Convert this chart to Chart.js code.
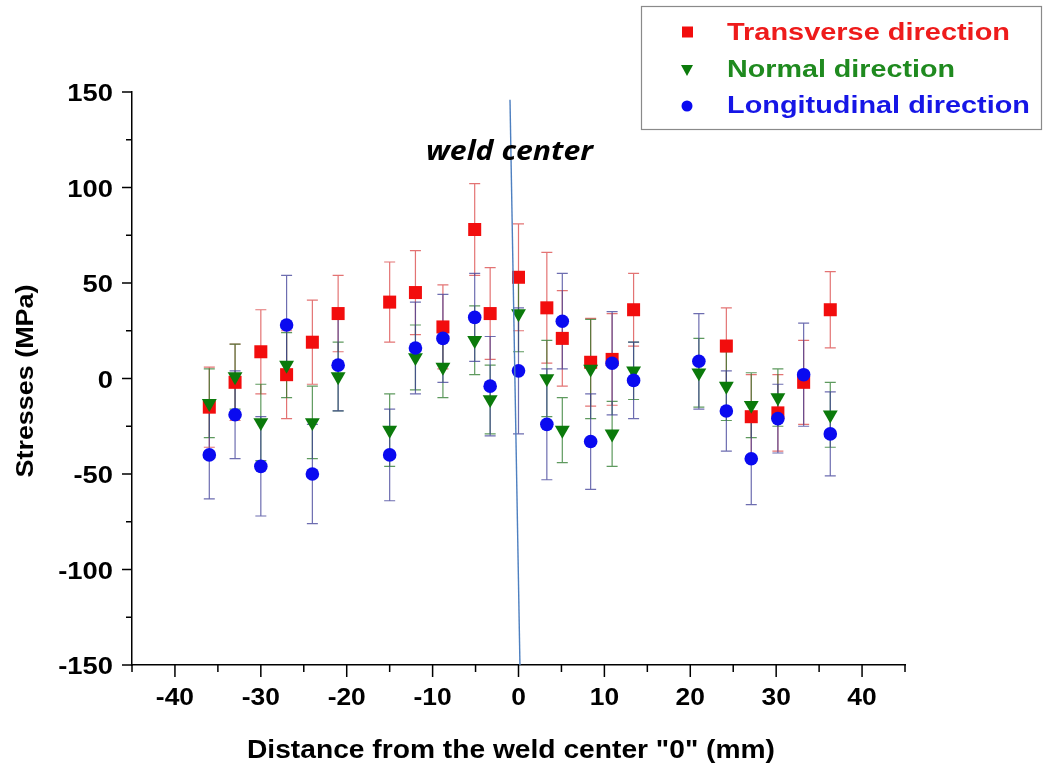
<!DOCTYPE html>
<html>
<head>
<meta charset="utf-8">
<script src="https://cdn.jsdelivr.net/npm/chart.js@4.4.1/dist/chart.umd.min.js"></script>
<style>
  html, body { margin: 0; padding: 0; background: #fff; }
  #wrap { position: relative; width: 1046px; height: 771px; }
</style>
</head>
<body>
<div id="wrap"><canvas id="chart"></canvas></div>
<script>
// distance from weld center (mm), shared by the three series
const xMm = [-36, -33, -30, -27, -24, -21, -15, -12, -8.8, -5.1, -3.3, 0, 3.3, 5.1, 8.4, 10.9, 13.4, 21, 24.2, 27.1, 30.2, 33.2, 36.3];

// stresses (MPa) + error (±MPa); null = no point at that position
const transverse    = [-15, -2, 14, 2, 19, 34, 40, 45, 27, 78, 34, 53, 37, 21, 8.5, 10, 36, null, 17, -20, -18, -2, 36];
const transverseErr = [21, 20, 22, 23, 22, 20, 21, 22, 22, 24, 24, 28, 29, 25, 23, 24, 19, null, 20, 22, 20, 22, 20];

const normal    = [-13, 1, -23, 7, -23, 1, -27, 11, 6, 20, -11, 34, 0, -27, 5, -29, 4, 3, -4, -14, -10, null, -19];
const normalErr = [18, 17, 20, 17, 19, 18, 19, 17, 16, 18, 18, 20, 20, 17, 26, 17, 15, 18, 18, 17, 15, null, 17];

const longitudinal    = [-40, -19, -46, 28, -50, 7, -40, 16, 21, 32, -4, 4, -24, 30, -33, 8, -1, 9, -17, -42, -21, 2, -29];
const longitudinalErr = [23, 23, 26, 26, 26, 24, 24, 24, 23, 23, 26, 33, 29, 25, 25, 27, 20, 25, 21, 24, 18, 27, 22];

// slanted "weld center" marker line (x mm, y MPa)
const weldLineX = [-0.99, 0.17];
const weldLineY = [146, -150];

const xTicks = [-40, -30, -20, -10, 0, 10, 20, 30, 40];
const yTicks = [150, 100, 50, 0, -50, -100, -150];

const LABELS = ["Transverse direction", "Normal direction", "Longitudinal direction"];

const RED = "#f20d0d", GREEN = "#0b7a0b", BLUE = "#0a0af0";

function pts(ys) {
  return xMm.map((x, i) => ({ x, y: ys[i] })).filter(p => p.y != null);
}

function stretchText(ctx, text, x, y, o) {
  ctx.save();
  ctx.font = o.font;
  ctx.fillStyle = o.color || "#000";
  ctx.textBaseline = o.baseline || "alphabetic";
  ctx.textAlign = "left";
  const w = ctx.measureText(text).width;
  const sx = o.width ? o.width / w : (o.sx || 1);
  const full = w * sx;
  ctx.translate(x, y);
  if (o.rotate) ctx.rotate(o.rotate);
  let x0 = 0;
  if (o.align === "center") x0 = -full / 2;
  else if (o.align === "right") x0 = -full;
  ctx.translate(x0, 0);
  ctx.scale(sx, 1);
  ctx.fillText(text, 0, 0);
  ctx.restore();
}

const errBars = {
  id: "errBars",
  beforeDatasetsDraw(chart) {
    const { ctx, scales: { x, y } } = chart;
    const sets = [
      [transverse, transverseErr, "rgba(220,80,80,0.8)"],
      [normal, normalErr, "rgba(40,120,40,0.75)"],
      [longitudinal, longitudinalErr, "rgba(60,60,150,0.75)"]
    ];
    ctx.save();
    ctx.lineWidth = 1.2;
    sets.forEach(([vals, errs, col]) => {
      ctx.strokeStyle = col;
      vals.forEach((v, i) => {
        if (v == null || errs[i] == null) return;
        const px = x.getPixelForValue(xMm[i]);
        const top = y.getPixelForValue(v + errs[i]);
        const bot = y.getPixelForValue(v - errs[i]);
        ctx.beginPath();
        ctx.moveTo(px, top); ctx.lineTo(px, bot);
        ctx.moveTo(px - 5.5, top); ctx.lineTo(px + 5.5, top);
        ctx.moveTo(px - 5.5, bot); ctx.lineTo(px + 5.5, bot);
        ctx.stroke();
      });
    });
    ctx.restore();
  }
};

const decor = {
  id: "decor",
  afterDraw(chart) {
    const { ctx, scales: { x, y }, chartArea: ca } = chart;
    const tickFont = "bold 24px 'Liberation Sans', Arial, sans-serif";

    // tick marks
    ctx.save();
    ctx.strokeStyle = "#000";
    ctx.lineWidth = 1.5;
    ctx.beginPath();
    x.ticks.forEach(t => {
      const px = x.getPixelForValue(t.value);
      const len = t.value % 10 === 0 ? 12 : 7;
      ctx.moveTo(px, ca.bottom); ctx.lineTo(px, ca.bottom + len);
    });
    y.ticks.forEach(t => {
      const py = y.getPixelForValue(t.value);
      const len = t.value % 50 === 0 ? 10 : 6;
      ctx.moveTo(ca.left, py); ctx.lineTo(ca.left - len, py);
    });
    ctx.stroke();
    ctx.restore();

    // tick labels
    xTicks.forEach(v => {
      stretchText(ctx, String(v), x.getPixelForValue(v), ca.bottom + 40,
        { font: tickFont, sx: 1.1, align: "center" });
    });
    yTicks.forEach(v => {
      stretchText(ctx, String(v), ca.left - 19, y.getPixelForValue(v) + 9,
        { font: tickFont, sx: 1.14, align: "right" });
    });

    // axis titles
    stretchText(ctx, 'Distance from the weld center "0" (mm)', 511, 758,
      { font: "bold 25px 'Liberation Sans', Arial, sans-serif", width: 528, align: "center" });
    stretchText(ctx, "Stresses (MPa)", 26, 381,
      { font: "bold 24px 'Liberation Sans', Arial, sans-serif", width: 193, align: "center",
        baseline: "middle", rotate: -Math.PI / 2 });

    // weld center note
    stretchText(ctx, "weld center", 426, 160,
      { font: "italic bold 26px 'Open Sans', sans-serif", width: 167 });

    // legend box
    ctx.save();
    ctx.fillStyle = "#fff";
    ctx.fillRect(641, 6, 400, 123);
    ctx.strokeStyle = "#8a8a8a";
    ctx.lineWidth = 1.2;
    ctx.strokeRect(641.5, 6.5, 400, 123);
    ctx.restore();

    const rows = [
      { label: LABELS[0], color: "#ee1b1b", mark: "rect", col: RED, my: 32, base: 40, w: 283 },
      { label: LABELS[1], color: "#1f8a1f", mark: "tri", col: GREEN, my: 70, base: 77, w: 228 },
      { label: LABELS[2], color: "#1616e6", mark: "circ", col: BLUE, my: 106, base: 113, w: 303 }
    ];
    rows.forEach(r => {
      ctx.save();
      ctx.fillStyle = r.col;
      ctx.beginPath();
      if (r.mark === "rect") ctx.rect(682, r.my - 5.5, 11, 11);
      else if (r.mark === "tri") { ctx.moveTo(681, r.my - 5); ctx.lineTo(693, r.my - 5); ctx.lineTo(687, r.my + 6); ctx.closePath(); }
      else ctx.arc(687, r.my, 5.5, 0, Math.PI * 2);
      ctx.fill();
      ctx.restore();
      stretchText(ctx, r.label, 727, r.base,
        { font: "bold 24px 'Liberation Sans', Arial, sans-serif", color: r.color, width: r.w });
    });
  }
};

new Chart(document.getElementById("chart"), {
  type: "scatter",
  data: {
    datasets: [
      {
        label: "weld center",
        type: "line",
        data: weldLineX.map((x, i) => ({ x, y: weldLineY[i] })),
        borderColor: "#4d7fc0",
        borderWidth: 1.4,
        pointRadius: 0,
        order: 0
      },
      {
        label: LABELS[2],
        data: pts(longitudinal),
        pointStyle: "circle",
        pointRadius: 6.8,
        backgroundColor: BLUE,
        borderColor: BLUE,
        borderWidth: 0,
        order: 1
      },
      {
        label: LABELS[1],
        data: pts(normal),
        pointStyle: "triangle",
        rotation: 180,
        pointRadius: 8.6,
        backgroundColor: GREEN,
        borderColor: GREEN,
        borderWidth: 0,
        order: 2
      },
      {
        label: LABELS[0],
        data: pts(transverse),
        pointStyle: "rect",
        pointRadius: 9.2,
        backgroundColor: RED,
        borderColor: RED,
        borderWidth: 0,
        order: 3
      }
    ]
  },
  options: {
    responsive: true,
    maintainAspectRatio: false,
    devicePixelRatio: 1,
    animation: false,
    events: [],
    layout: { padding: { left: 0, right: 141, top: 92, bottom: 0 } },
    plugins: { legend: { display: false }, tooltip: { enabled: false } },
    scales: {
      x: {
        type: "linear",
        min: -45, max: 45,
        ticks: { stepSize: 5, display: false },
        grid: { display: false },
        border: { display: true, color: "#000", width: 1.5 },
        afterFit(s) { s.height = 106; }
      },
      y: {
        type: "linear",
        min: -150, max: 150,
        ticks: { stepSize: 25, display: false },
        grid: { display: false },
        border: { display: true, color: "#000", width: 1.5 },
        afterFit(s) { s.width = 132; }
      }
    }
  },
  plugins: [errBars, decor]
});
</script>
</body>
</html>
